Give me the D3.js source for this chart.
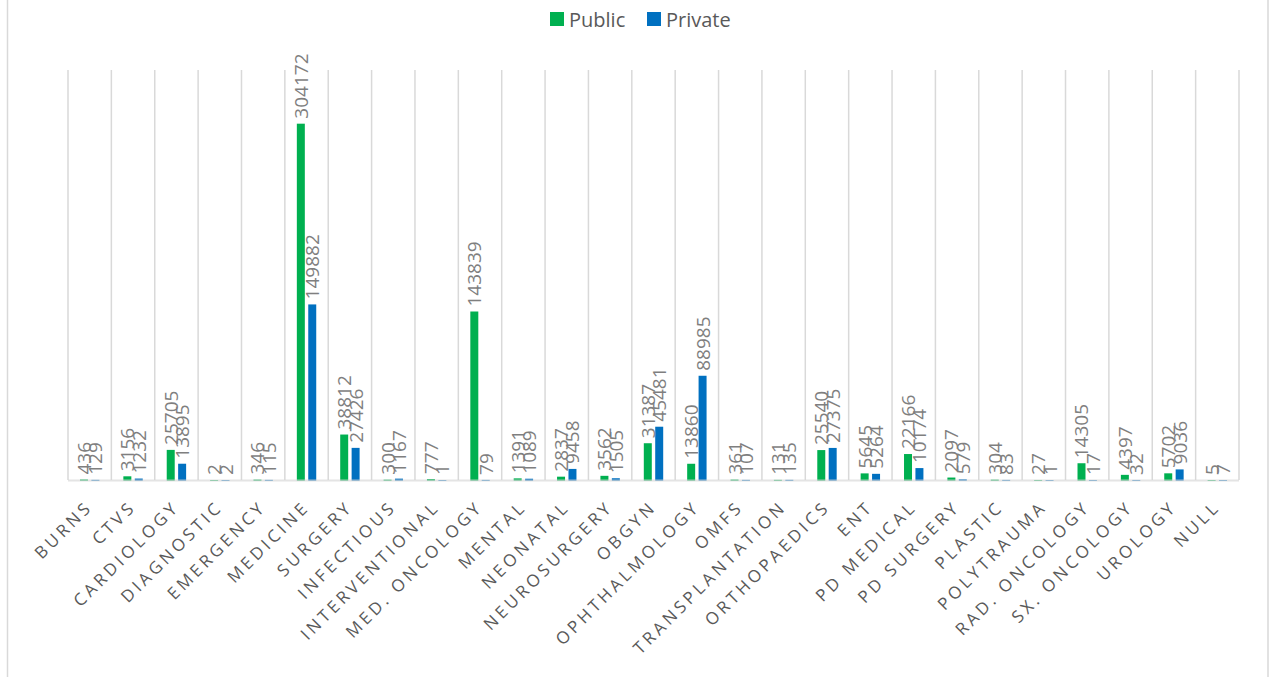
<!DOCTYPE html>
<html>
<head>
<meta charset="utf-8">
<script src="https://cdn.jsdelivr.net/npm/d3@7"></script>
<style>
  body { margin: 0; background: #fff; }
  .barLabel { font-family: "Open Sans", sans-serif; font-size: 19px; fill: #7f7f7f; }
  .catLabel { font-family: "Open Sans", sans-serif; font-size: 17px; fill: #595959; letter-spacing: 3.5px; }
  .legendText { font-family: "Open Sans", sans-serif; font-size: 20px; fill: #595959; }
</style>
</head>
<body>
<div id="chart"></div>
<script>
// data
var departments = ["BURNS", "CTVS", "CARDIOLOGY", "DIAGNOSTIC", "EMERGENCY", "MEDICINE", "SURGERY",
  "INFECTIOUS", "INTERVENTIONAL", "MED. ONCOLOGY", "MENTAL", "NEONATAL", "NEUROSURGERY", "OBGYN",
  "OPHTHALMOLOGY", "OMFS", "TRANSPLANTATION", "ORTHOPAEDICS", "ENT", "PD MEDICAL", "PD SURGERY",
  "PLASTIC", "POLYTRAUMA", "RAD. ONCOLOGY", "SX. ONCOLOGY", "UROLOGY", "NULL"];

var publicValues = [436, 3156, 25705, 2, 346, 304172, 38812, 300, 777, 143839, 1391, 2837, 3562, 31387,
  13860, 361, 131, 25540, 5645, 22166, 2097, 304, 27, 14305, 4397, 5702, 5];

var privateValues = [129, 1232, 13895, 2, 115, 149882, 27426, 1167, 1, 79, 1089, 9458, 1505, 45481,
  88985, 107, 135, 27375, 5264, 10174, 579, 83, 1, 17, 32, 9036, 7];

var seriesNames = ["Public", "Private"];
var seriesColors = ["#00b050", "#0070c0"];

var svgWidth = 1269;
var svgHeight = 678;

var plot = { left: 68, right: 1239, top: 70, bottom: 480 };

var svg = d3.select("#chart")
  .append("svg")
  .attr("width", svgWidth)
  .attr("height", svgHeight);

// chart border (left / right edges)
svg.append("line").attr("x1", 7.5).attr("x2", 7.5).attr("y1", 0).attr("y2", 677)
  .attr("stroke", "#d9d9d9").attr("stroke-width", 1.5);
svg.append("line").attr("x1", 1268).attr("x2", 1268).attr("y1", 0).attr("y2", 677)
  .attr("stroke", "#d9d9d9").attr("stroke-width", 1.5);

// table rows built from the arrays
var rows = departments.map(function(d, i) {
  return { name: d, values: [publicValues[i], privateValues[i]] };
});

// scales
// ==============================
var xScale = d3.scaleBand()
  .domain(departments)
  .range([plot.left, plot.right])
  .padding(0);

var bw = xScale.bandwidth();
var xInner = d3.scaleBand()
  .domain([0, 1])
  .range([bw / 2 - 9.7, bw / 2 + 9.7])
  .paddingInner(0.3);

var yScale = d3.scaleLinear()
  .domain([0, 350000])
  .range([plot.bottom, plot.top]);

// vertical gridlines at category boundaries
var bounds = departments.map(function(d) { return xScale(d); }).concat([plot.right]);
svg.append("g")
  .selectAll("line")
  .data(bounds)
  .enter()
  .append("line")
  .attr("x1", d => d)
  .attr("x2", d => d)
  .attr("y1", plot.top)
  .attr("y2", plot.bottom)
  .attr("stroke", "#d9d9d9")
  .attr("stroke-width", 1.5);

// bars
// ==============================
var groups = svg.append("g")
  .selectAll("g")
  .data(rows)
  .enter()
  .append("g")
  .attr("transform", d => `translate(${xScale(d.name)},0)`);

groups.selectAll("rect")
  .data(d => d.values)
  .enter()
  .append("rect")
  .attr("x", (d, i) => xInner(i))
  .attr("width", xInner.bandwidth())
  .attr("y", d => yScale(d))
  .attr("height", d => yScale(0) - yScale(d) + 1)
  .attr("fill", (d, i) => seriesColors[i]);

// baseline
svg.append("line")
  .attr("x1", plot.left)
  .attr("x2", plot.right)
  .attr("y1", yScale(0) + 0.5)
  .attr("y2", yScale(0) + 0.5)
  .attr("stroke", "#d9d9d9")
  .attr("stroke-opacity", 0.7)
  .attr("stroke-width", 2);

// value labels (rotated)
groups.selectAll("text")
  .data(d => d.values)
  .enter()
  .append("text")
  .attr("class", "barLabel")
  .attr("transform", (d, i) => `translate(${xInner(i) + xInner.bandwidth() / 2},${yScale(d) - 5}) rotate(-90)`)
  .attr("dominant-baseline", "central")
  .attr("text-anchor", "start")
  .text(d => d);

// category labels
svg.append("g")
  .selectAll("text")
  .data(departments)
  .enter()
  .append("text")
  .attr("class", "catLabel")
  .attr("transform", d => `translate(${xScale(d) + bw / 2 + 4},${508}) rotate(-45)`)
  .attr("text-anchor", "end")
  .text(d => d);

// legend
// ==============================
var legendX = [550, 647];
var legend = svg.append("g")
  .selectAll("g")
  .data(seriesNames)
  .enter()
  .append("g")
  .attr("transform", (d, i) => `translate(${legendX[i]},12)`);

legend.append("rect")
  .attr("width", 14)
  .attr("height", 14)
  .attr("fill", (d, i) => seriesColors[i]);

legend.append("text")
  .attr("class", "legendText")
  .attr("x", 19)
  .attr("y", 7)
  .attr("dominant-baseline", "central")
  .text(d => d);
</script>
</body>
</html>
